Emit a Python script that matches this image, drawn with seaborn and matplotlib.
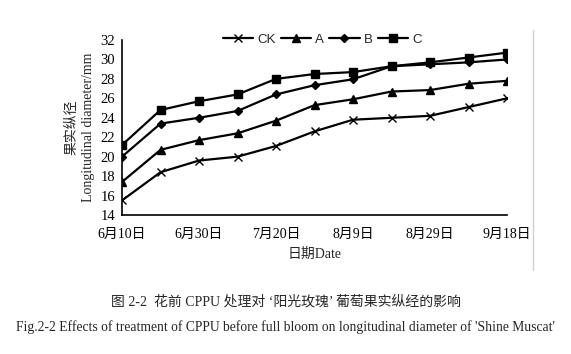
import numpy as np
import pandas as pd
import matplotlib
matplotlib.use('Agg')
import matplotlib.pyplot as plt
import seaborn as sns
from matplotlib.lines import Line2D

# 取样时间：6月10日起每 10 天
days = [0, 10, 20, 30, 40, 50, 60, 70, 80, 90, 100]
tick_labels = ["6月10日", "6月30日", "7月20日", "8月9日", "8月29日", "9月18日"]

ck = [15.5, 18.4, 19.6, 20.0, 21.1, 22.6, 23.8, 24.0, 24.2, 25.1, 26.0]
a = [17.4, 20.7, 21.7, 22.4, 23.7, 25.3, 25.9, 26.7, 26.85, 27.5, 27.8]
b = [20.0, 23.4, 24.0, 24.7, 26.4, 27.35, 27.96, 29.3, 29.5, 29.7, 30.0]
c = [21.2, 24.8, 25.7, 26.4, 28.0, 28.5, 28.7, 29.3, 29.7, 30.2, 30.7]

groups = ["CK", "A", "B", "C"]
df = pd.DataFrame({
    "day": days * 4,
    "diam": ck + a + b + c,
    "group": sum([[g] * len(days) for g in groups], []),
})

sns.set_style("white")
plt.rcParams['font.family'] = ['Liberation Serif', 'Noto Sans CJK SC']

fig = plt.figure(figsize=(5.71, 3.54), dpi=100)
ax = fig.add_axes([122 / 571, 1 - 215 / 354, 385 / 571, 175 / 354])

markers = {"CK": "x", "A": "^", "B": "D", "C": "s"}
sizes = {"CK": 6, "A": 6, "B": 4.5, "C": 6}
for g in groups:
    sub = df[df["group"] == g]
    sns.lineplot(data=sub, x="day", y="diam", ax=ax, color="black", lw=1.6,
                 marker=markers[g], markersize=sizes[g], markeredgewidth=1.0,
                 mec="black", mfc="black", label=g, legend=False)

ax.set_xlim(0, 100)
ax.set_ylim(14, 32)
ax.set_yticks(np.arange(14, 33, 2))
ax.set_xticks(days, minor=False)
ax.set_xticklabels([tick_labels[i // 2] if i % 2 == 0 else "" for i in range(len(days))])
ax.tick_params(axis="both", direction="in", length=4, width=1, colors="black",
               labelsize=10.5, pad=5)
ax.tick_params(axis="x", pad=9)
for s in ["top", "right"]:
    ax.spines[s].set_visible(False)
for s in ["left", "bottom"]:
    ax.spines[s].set_color("black")
    ax.spines[s].set_linewidth(1.2)
for lab in ax.get_xticklabels():
    lab.set_fontsize(10)

ax.set_xlabel("日期Date", fontsize=10, labelpad=5)
ax.set_ylabel("果实纵径\nLongitudinal diameter/mm", fontsize=10, labelpad=4,
              linespacing=1.35)

handles = [Line2D([], [], color="black", lw=1.6, marker=markers[g],
                  markersize=sizes[g], mfc="black", mec="black") for g in groups]
leg = ax.legend(handles, groups, loc="center", bbox_to_anchor=(0.52, 1.0),
                ncol=4, frameon=False, handlelength=2.3, handletextpad=0.3,
                columnspacing=0.4, prop={"family": "Liberation Sans", "size": 9.5})

fig.text(0.5, 1 - 302 / 354, "图 2-2  花前 CPPU 处理对 ‘阳光玫瑰’ 葡萄果实纵经的影响",
         ha="center", va="center", fontsize=10)
fig.text(0.5, 1 - 327 / 354,
         "Fig.2-2 Effects of treatment of CPPU before full bloom on longitudinal diameter of 'Shine Muscat'",
         ha="center", va="center", fontsize=9.8)

fig.add_artist(Line2D([533 / 571, 533 / 571], [1 - 30 / 354, 1 - 270 / 354],
                      transform=fig.transFigure, color="#d0d0d0", lw=1))

fig.savefig("out.png", dpi=100)
